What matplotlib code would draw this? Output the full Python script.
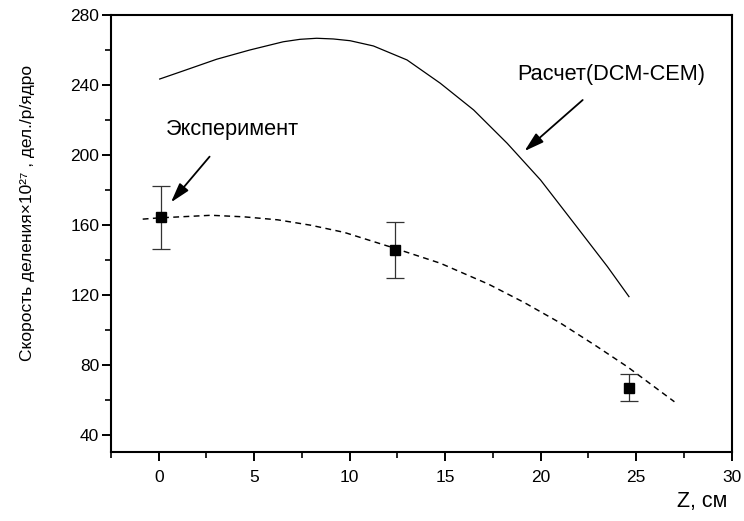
import matplotlib
matplotlib.use("Agg")
import matplotlib.pyplot as plt
from matplotlib.ticker import MultipleLocator

plt.rcParams['font.family'] = ['Liberation Sans', 'DejaVu Sans']

# Experimental points
z_exp = [0.1, 12.35, 24.6]
y_exp = [164.5, 145.4, 67.0]
y_err = [18.0, 16.0, 7.5]

# Calculation (DCM-CEM), solid curve
z_calc = [0.05, 1.27, 3.03, 4.77, 6.52, 7.40, 8.27, 9.14, 10.02, 11.24, 13.0, 14.74,
          16.49, 18.24, 19.99, 21.74, 23.49, 24.62]
y_calc = [243.4, 248.0, 254.7, 260.0, 264.7, 266.1, 266.7, 266.3, 265.3, 262.3, 254.3, 241.0,
          225.7, 206.7, 185.7, 161.0, 136.2, 119.0]

# Fit through experiment, dashed curve
z_fit = [-0.84, 0.0, 2.74, 4.48, 6.23, 7.97, 9.72, 12.34, 14.74, 17.27, 19.14, 21.0, 22.9, 24.55, 27.0]
y_fit = [163.3, 164.0, 165.5, 164.6, 162.9, 159.8, 155.7, 146.7, 138.1, 126.1, 115.6, 104.1, 90.8, 78.8, 58.9]

x_ticks = [0, 5, 10, 15, 20, 25, 30]
y_ticks = [40, 80, 120, 160, 200, 240, 280]

fig = plt.figure(figsize=(7.44, 5.21), dpi=100)
ax = fig.add_axes([111 / 744, 1 - 452.3 / 521, (731.7 - 111) / 744, (452.3 - 15) / 521])

ax.plot(z_calc, y_calc, color='black', lw=0.9)
ax.plot(z_fit, y_fit, color='black', lw=1.05, ls=(0, (4, 3)))
ax.errorbar(z_exp, y_exp, yerr=y_err, fmt='s', color='black', ms=6.5,
            ecolor='#333333', elinewidth=0.9, capsize=6.7, capthick=0.9)

ax.set_xlim(-2.5, 30)
ax.set_ylim(30, 280)
ax.set_xticks(x_ticks)
ax.set_yticks(y_ticks)
ax.xaxis.set_minor_locator(MultipleLocator(2.5))
ax.yaxis.set_minor_locator(MultipleLocator(20))
ax.tick_params(which='major', direction='out', length=6.7, width=1.4, labelsize=12.5)
ax.tick_params(which='minor', direction='out', length=4.3, width=1.2)
ax.tick_params(axis='y', pad=1.7)
ax.tick_params(axis='x', pad=6)
for s in ax.spines.values():
    s.set_linewidth(1.5)

arrow = dict(arrowstyle='-|>,head_length=0.85,head_width=0.25', color='black', lw=1.3,
             mutation_scale=14, shrinkA=13, shrinkB=0)
ax.annotate('Эксперимент', xy=(0.64, 172.9), xytext=(3.86, 214.5),
            ha='center', va='center', fontsize=15.7, arrowprops=arrow)
ax.annotate('Расчет(DCM-CEM)', xy=(19.15, 202.2), xytext=(23.7, 245.8),
            ha='center', va='center', fontsize=15.7, arrowprops=arrow)

fig.text(32 / 744, 1 - 213 / 521, 'Скорость деления×10²⁷ , дел./р/ядро',
         rotation=90, rotation_mode='anchor', ha='center', va='baseline', fontsize=12.5)
fig.text(727 / 744, 1 - 507 / 521, 'Z, см', ha='right', va='baseline', fontsize=15.5)

fig.savefig('out.png', dpi=100)
